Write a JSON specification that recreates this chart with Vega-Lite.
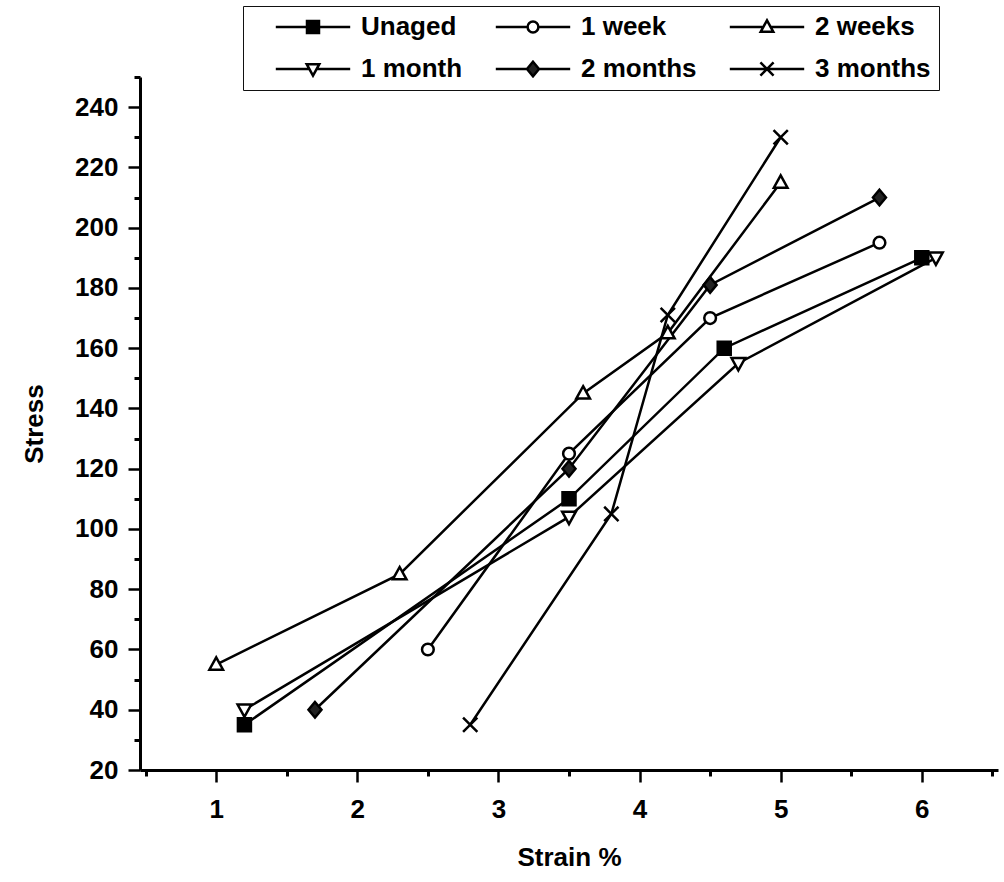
{
  "$schema": "https://vega.github.io/schema/vega-lite/v6.json",
  "autosize": {"type": "none"},
  "padding": {"left": 140, "top": 77, "right": 6, "bottom": 112},
  "width": 858,
  "height": 693,
  "background": "white",
  "config": {
    "view": {"stroke": null},
    "axis": {
      "labelFont": "Liberation Sans",
      "labelFontSize": 26,
      "labelFontWeight": "bold",
      "labelColor": "black",
      "titleFont": "Liberation Sans",
      "titleFontSize": 26,
      "titleFontWeight": "bold",
      "titleColor": "black",
      "domainColor": "black",
      "tickColor": "black",
      "grid": false
    },
    "legend": {
      "orient": "none", "legendX": 103, "legendY": -71,
      "direction": "horizontal", "columns": 3, "title": null,
      "labelFont": "Liberation Sans", "labelFontSize": 26, "labelFontWeight": "bold",
      "labelColor": "black", "labelLimit": 300,
      "symbolSize": 144, "symbolStrokeWidth": 2.5, "symbolOpacity": 1,
      "symbolOffset": 49, "labelOffset": 35,
      "columnPadding": 8, "rowPadding": 16, "padding": 8,
      "strokeColor": "#111", "fillColor": "white"
    }
  },
  "data": {
    "values": [
      {"series": "Unaged", "strain": 1.2, "stress": 35},
      {"series": "Unaged", "strain": 3.5, "stress": 110},
      {"series": "Unaged", "strain": 4.6, "stress": 160},
      {"series": "Unaged", "strain": 6.0, "stress": 190},
      {"series": "1 week", "strain": 2.5, "stress": 60},
      {"series": "1 week", "strain": 3.5, "stress": 125},
      {"series": "1 week", "strain": 4.5, "stress": 170},
      {"series": "1 week", "strain": 5.7, "stress": 195},
      {"series": "2 weeks", "strain": 1.0, "stress": 55},
      {"series": "2 weeks", "strain": 2.3, "stress": 85},
      {"series": "2 weeks", "strain": 3.6, "stress": 145},
      {"series": "2 weeks", "strain": 4.2, "stress": 165},
      {"series": "2 weeks", "strain": 5.0, "stress": 215},
      {"series": "1 month", "strain": 1.2, "stress": 40},
      {"series": "1 month", "strain": 3.5, "stress": 104},
      {"series": "1 month", "strain": 4.7, "stress": 155},
      {"series": "1 month", "strain": 6.1, "stress": 190},
      {"series": "2 months", "strain": 1.7, "stress": 40},
      {"series": "2 months", "strain": 3.5, "stress": 120},
      {"series": "2 months", "strain": 4.5, "stress": 181},
      {"series": "2 months", "strain": 5.7, "stress": 210},
      {"series": "3 months", "strain": 2.8, "stress": 35},
      {"series": "3 months", "strain": 3.8, "stress": 105},
      {"series": "3 months", "strain": 4.2, "stress": 171},
      {"series": "3 months", "strain": 5.0, "stress": 230}
    ]
  },
  "resolve": {
    "axis": {"x": "independent", "y": "independent"},
    "scale": {"shape": "independent", "fill": "independent", "stroke": "independent", "strokeWidth": "independent"}
  },
  "layer": [
    {
      "mark": {"type": "line", "color": "black", "strokeWidth": 2.5},
      "encoding": {
        "x": {
          "field": "strain", "type": "quantitative",
          "scale": {"domain": [0.46, 6.54], "nice": false, "zero": false},
          "axis": {
            "orient": "bottom", "title": "Strain %", "values": [1, 2, 3, 4, 5, 6],
            "tickSize": 12, "tickWidth": 2.5, "domainWidth": 3,
            "labelPadding": 14, "titlePadding": 22
          }
        },
        "y": {
          "field": "stress", "type": "quantitative",
          "scale": {"domain": [20, 250], "nice": false, "zero": false},
          "axis": {
            "orient": "left", "title": "Stress",
            "values": [20, 40, 60, 80, 100, 120, 140, 160, 180, 200, 220, 240],
            "tickSize": 12, "tickWidth": 2.5, "domainWidth": 3,
            "labelPadding": 10, "titlePadding": 27
          }
        },
        "detail": {"field": "series"},
        "order": {"field": "strain"}
      }
    },
    {
      "mark": {"type": "point", "filled": true, "stroke": "black", "opacity": 1, "size": 169},
      "encoding": {
        "x": {
          "field": "strain", "type": "quantitative",
          "axis": {
            "orient": "bottom", "title": null, "labels": false, "domain": false,
            "values": [0.5, 1.5, 2.5, 3.5, 4.5, 5.5, 6.5],
            "tickSize": 6, "tickWidth": 3
          }
        },
        "y": {
          "field": "stress", "type": "quantitative",
          "axis": {
            "orient": "left", "title": null, "labels": false, "domain": false,
            "values": [30, 50, 70, 90, 110, 130, 150, 170, 190, 210, 230, 250],
            "tickSize": 6, "tickWidth": 3
          }
        },
        "shape": {
          "field": "series", "type": "nominal",
          "scale": {
            "domain": ["Unaged", "1 week", "2 weeks", "1 month", "2 months", "3 months"],
            "range": [
              "M-1,-1H1V1H-1Z",
              "M-0.9,0A0.9,0.9 0 1,1 0.9,0A0.9,0.9 0 1,1 -0.9,0Z",
              "M0,-1.1L1.05,0.8H-1.05Z",
              "M0,1.1L1.05,-0.8H-1.05Z",
              "M0,-1.2L1,0L0,1.2L-1,0Z",
              "M-1.1,-1.1L1.1,1.1M1.1,-1.1L-1.1,1.1"
            ]
          },
          "legend": null
        },
        "fill": {
          "field": "series", "type": "nominal",
          "scale": {
            "domain": ["Unaged", "1 week", "2 weeks", "1 month", "2 months", "3 months"],
            "range": ["black", "white", "white", "white", "#222", "black"]
          },
          "legend": null
        },
        "strokeWidth": {
          "field": "series", "type": "nominal",
          "scale": {
            "domain": ["Unaged", "1 week", "2 weeks", "1 month", "2 months", "3 months"],
            "range": [2.5, 2.5, 2.5, 2.5, 2.5, 3.5]
          },
          "legend": null
        }
      }
    },
    {
      "transform": [{"filter": "false"}],
      "mark": {"type": "point", "filled": true, "opacity": 1, "size": 144},
      "encoding": {
        "x": {"field": "strain", "type": "quantitative", "axis": null},
        "y": {"field": "stress", "type": "quantitative", "axis": null},
        "shape": {
          "field": "series", "type": "nominal",
          "scale": {
            "domain": ["Unaged", "1 week", "2 weeks", "1 month", "2 months", "3 months"],
            "range": [
              "M-6.2,0H-1M1,0H6.2M-1,-1H1V1H-1Z",
              "M-6.2,0H-0.9M0.9,0H6.2M-0.9,0A0.9,0.9 0 1,1 0.9,0A0.9,0.9 0 1,1 -0.9,0Z",
              "M-6.2,0H-0.6M0.6,0H6.2M0,-1.1L1.05,0.8H-1.05Z",
              "M-6.2,0H-0.6M0.6,0H6.2M0,1.1L1.05,-0.8H-1.05Z",
              "M-6.2,0H-1M1,0H6.2M0,-1.2L1,0L0,1.2L-1,0Z",
              "M-6.2,0H6.2M-1.1,-1.1L1.1,1.1M1.1,-1.1L-1.1,1.1"
            ]
          },
          "legend": {}
        },
        "fill": {
          "field": "series", "type": "nominal",
          "scale": {
            "domain": ["Unaged", "1 week", "2 weeks", "1 month", "2 months", "3 months"],
            "range": ["black", "white", "white", "white", "#222", "black"]
          },
          "legend": {}
        },
        "stroke": {
          "field": "series", "type": "nominal",
          "scale": {
            "domain": ["Unaged", "1 week", "2 weeks", "1 month", "2 months", "3 months"],
            "range": ["black", "black", "black", "black", "black", "black"]
          },
          "legend": {}
        }
      }
    }
  ]
}
